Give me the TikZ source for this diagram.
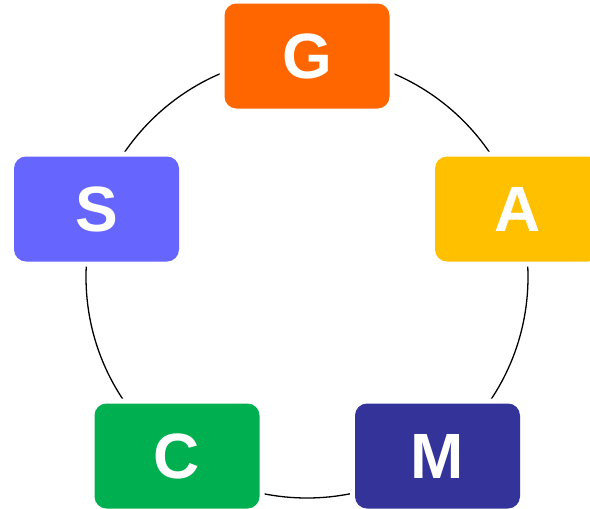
\documentclass[tikz,border=0pt]{standalone}
\usepackage{fontspec}
\setmainfont{Liberation Sans}
\begin{document}
\begin{tikzpicture}[x=1pt,y=-1pt,
  cyclebox/.style={rounded corners=12pt, minimum width=165pt, minimum height=105pt,
    inner sep=0pt, text=white, font=\bfseries\fontsize{64}{64}\selectfont,
    preaction={draw=white, line width=10pt}},
  ring/.style={draw=black, line width=1.3pt}]
\definecolor{cG}{HTML}{FF6600}
\definecolor{cA}{HTML}{FFC000}
\definecolor{cS}{HTML}{6666FF}
\definecolor{cC}{HTML}{00B050}
\definecolor{cM}{HTML}{333399}
\useasboundingbox (0,0) rectangle (590,509);
% the cycle
\coordinate (ctr) at (307,277);
\draw[ring] (ctr) circle[radius=221];
% the five stages
\node[cyclebox, fill=cG] (g) at (307,56) {G};
\node[cyclebox, fill=cA] (a) at (517.5,209) {A};
\node[cyclebox, fill=cS] (s) at (96.5,209) {S};
\node[cyclebox, fill=cC] (c) at (177,456) {C};
\node[cyclebox, fill=cM] (m) at (437.5,456) {M};
\end{tikzpicture}
\end{document}
